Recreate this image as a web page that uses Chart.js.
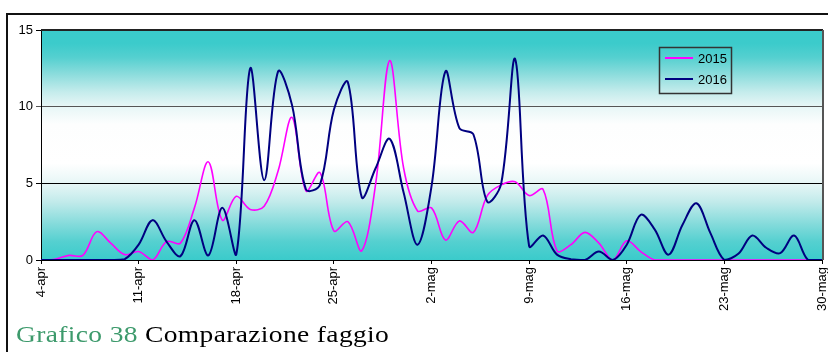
<!DOCTYPE html>
<html>
<head>
<meta charset="utf-8">
<script src="https://cdn.jsdelivr.net/npm/chart.js@4/dist/chart.umd.min.js"></script>
<style>
  html, body { margin: 0; padding: 0; background: #fff; }
  #wrap { position: relative; width: 828px; height: 352px; overflow: hidden; }
  #frame { position: absolute; left: 6px; top: 13px; width: 900px; height: 400px;
           border-left: 2px solid #111; border-top: 2px solid #111; }
  #c { position: absolute; left: 0; top: 0; }
  #caption { position: absolute; left: 16px; top: 323px; white-space: nowrap;
             font-family: "Liberation Serif", "Times New Roman", serif;
             font-size: 23.5px; line-height: 23.5px; color: #000;
             letter-spacing: 0.3px;
             transform: scaleX(1.17); transform-origin: 0 0; }
  #caption .num { color: #3d9a6c; }
</style>
</head>
<body>
<div id="wrap">
  <div id="frame"></div>
  <canvas id="c" width="828" height="352"></canvas>
  <div id="caption"><span class="num">Grafico 38</span> Comparazione faggio</div>
</div>
<script>
// Giorni di osservazione (4 aprile - 30 maggio)
const dates = [
  '4-apr','5-apr','6-apr','7-apr','8-apr','9-apr','10-apr','11-apr','12-apr','13-apr',
  '14-apr','15-apr','16-apr','17-apr','18-apr','19-apr','20-apr','21-apr','22-apr','23-apr',
  '24-apr','25-apr','26-apr','27-apr','28-apr','29-apr','30-apr',
  '1-mag','2-mag','3-mag','4-mag','5-mag','6-mag','7-mag','8-mag','9-mag','10-mag',
  '11-mag','12-mag','13-mag','14-mag','15-mag','16-mag','17-mag','18-mag','19-mag','20-mag',
  '21-mag','22-mag','23-mag','24-mag','25-mag','26-mag','27-mag','28-mag','29-mag','30-mag'
];

// Concentrazioni giornaliere di polline di faggio
const faggio2015 = [
  0, 0.05, 0.3, 0.3, 1.85, 1.1, 0.35, 0.55, 0, 1.2,
  1.1, 3.4, 6.4, 2.6, 4.15, 3.3, 3.5, 5.8, 9.3, 4.5,
  5.7, 1.9, 2.5, 0.6, 5.0, 13.0, 6.0, 3.2, 3.4, 1.3,
  2.55, 1.8, 4.2, 4.9, 5.1, 4.2, 4.6, 0.6, 1.0, 1.8,
  1.1, 0, 1.25, 0.55, 0, 0, 0, 0, 0, 0,
  0, 0, 0, 0, 0, 0, 0
];
const faggio2016 = [
  0, 0, 0, 0, 0, 0, 0.05, 1.0, 2.6, 1.2,
  0.25, 2.6, 0.3, 3.4, 0.35, 12.5, 5.2, 12.3, 10.1, 4.6,
  4.9, 9.8, 11.6, 4.1, 6.0, 7.9, 4.4, 1.0, 4.8, 12.3,
  8.6, 8.2, 3.8, 5.0, 13.1, 0.9, 1.6, 0.35, 0.05, 0,
  0.55, 0, 1.0, 2.95, 2.0, 0.35, 2.3, 3.7, 1.75, 0,
  0.4, 1.6, 0.8, 0.45, 1.6, 0, 0
];

const seriesNames = ['2015', '2016'];
const seriesColors = ['#ff00ff', '#000080'];
const yMax = 15;
const yStep = 5;
const xStep = 7;

const tickFont = { family: '"Liberation Sans", Arial, sans-serif', size: 13 };

// Sfondo dell'area del grafico: sfumatura turchese-bianco-turchese
const plotBackground = {
  id: 'plotBackground',
  beforeDraw(chart) {
    const { ctx, chartArea: a } = chart;
    const g = ctx.createLinearGradient(0, a.top, 0, a.bottom);
    g.addColorStop(0.00, '#3acbcb');
    g.addColorStop(0.06, '#3ccbcb');
    g.addColorStop(0.12, '#55d0d0');
    g.addColorStop(0.19, '#8adcdc');
    g.addColorStop(0.27, '#c5ecec');
    g.addColorStop(0.33, '#e6f6f6');
    g.addColorStop(0.41, '#fdfefe');
    g.addColorStop(0.58, '#ffffff');
    g.addColorStop(0.67, '#e6f6f6');
    g.addColorStop(0.75, '#c0eaea');
    g.addColorStop(0.85, '#80dada');
    g.addColorStop(0.92, '#55d0d0');
    g.addColorStop(1.00, '#3acbcb');
    ctx.save();
    ctx.fillStyle = g;
    ctx.fillRect(a.left, a.top, a.right - a.left, a.bottom - a.top);
    ctx.restore();
  },
  afterDraw(chart) {
    const { ctx, chartArea: a } = chart;
    ctx.save();
    // bordo superiore e destro dell'area del grafico
    ctx.strokeStyle = '#222';
    ctx.lineWidth = 2;
    ctx.beginPath();
    ctx.moveTo(a.left, a.top);
    ctx.lineTo(a.right + 1, a.top);
    ctx.stroke();
    ctx.strokeStyle = '#555';
    ctx.beginPath();
    ctx.moveTo(a.right + 1, a.top);
    ctx.lineTo(a.right + 1, a.bottom);
    ctx.stroke();

    // legenda
    const bx = a.right - 163, by = a.top + 17, bw = 72, bh = 46;
    ctx.strokeStyle = '#333';
    ctx.lineWidth = 1.5;
    ctx.strokeRect(bx + 0.5, by + 0.5, bw, bh);
    ctx.font = '13px "Liberation Sans", Arial, sans-serif';
    ctx.textBaseline = 'middle';
    ctx.textAlign = 'left';
    chart.data.datasets.forEach((ds, i) => {
      const ly = by + 11 + i * 21;
      ctx.strokeStyle = ds.borderColor;
      ctx.lineWidth = 2;
      ctx.beginPath();
      ctx.moveTo(bx + 6, ly);
      ctx.lineTo(bx + 34, ly);
      ctx.stroke();
      ctx.fillStyle = '#000';
      ctx.fillText(ds.label, bx + 39, ly + 1);
    });
    ctx.restore();
  }
};

const toPoints = arr => arr.map((v, i) => ({ x: i, y: v }));

new Chart(document.getElementById('c'), {
  type: 'line',
  data: {
    datasets: [
      { label: seriesNames[0], data: toPoints(faggio2015), borderColor: seriesColors[0],
        borderWidth: 1.6, pointRadius: 0, tension: 0.35, fill: false, order: 1 },
      { label: seriesNames[1], data: toPoints(faggio2016), borderColor: seriesColors[1],
        borderWidth: 2, pointRadius: 0, tension: 0.35, fill: false, order: 0 }
    ]
  },
  options: {
    responsive: false,
    animation: false,
    devicePixelRatio: 1,
    layout: { padding: { left: 0, top: 30, right: 6, bottom: 0 } },
    plugins: { legend: { display: false }, tooltip: { enabled: false } },
    scales: {
      x: {
        type: 'linear',
        min: 0,
        max: dates.length - 1,
        ticks: {
          stepSize: xStep,
          callback: v => dates[v],
          minRotation: 90,
          maxRotation: 90,
          padding: 3,
          color: '#000',
          font: tickFont
        },
        grid: { drawOnChartArea: false, drawTicks: true, tickLength: 4, color: '#000' },
        border: { display: true, color: '#000', width: 1 },
        afterFit: s => { s.height = 92; s.paddingLeft = 0; s.paddingRight = 0; }
      },
      y: {
        min: 0,
        max: yMax,
        ticks: { stepSize: yStep, padding: 3, color: '#000', font: tickFont },
        grid: {
          color: c => (c.tick && c.tick.value === 10 ? '#555' : '#000'),
          lineWidth: 1,
          tickLength: 5
        },
        border: { display: true, color: '#000', width: 1 },
        afterFit: s => { s.width = 41; s.paddingTop = 0; s.paddingBottom = 0; }
      }
    }
  },
  plugins: [plotBackground]
});
</script>
</body>
</html>
